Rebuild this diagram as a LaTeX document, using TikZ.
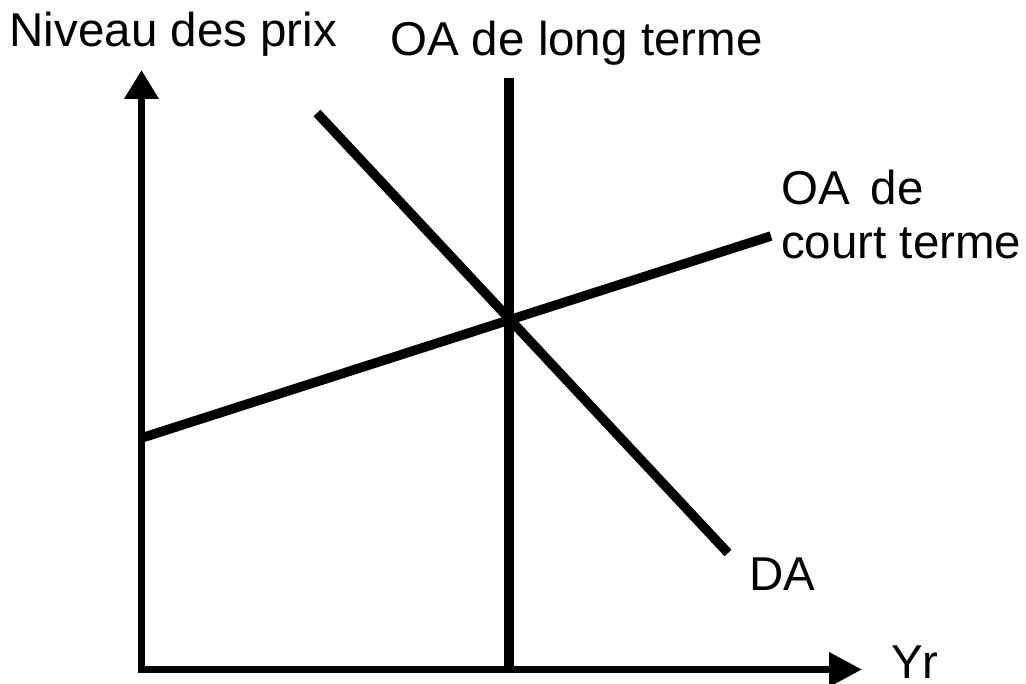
\documentclass[tikz,border=0pt]{standalone}
\usepackage{fontspec}
\setmainfont{Liberation Sans}
\usetikzlibrary{arrows.meta}

\tikzset{
  axis/.style={line width=7pt, line join=miter},
  curve/.style={line width=9.5pt},
  lbl/.style={anchor=base west, inner sep=0pt, align=left,
    font=\fontsize{47.5}{54}\selectfont}
}

\begin{document}
\begin{tikzpicture}[x=1pt,y=-1pt]
  \useasboundingbox (0,0) rectangle (1026,684);

  % axes
  \coordinate (O) at (141.5,669.5);
  \coordinate (ytip) at (141.5,70);
  \coordinate (xtip) at (862,669.5);
  \draw[axis, {Triangle[length=29pt,width=33pt]}-{Triangle[length=33pt,width=33pt]}]
    (ytip) -- (O) -- (xtip);

  % curves
  \coordinate (lrtop) at (509,78);
  \coordinate (lrbot) at (509,669.5);
  \coordinate (datop) at (317,113);
  \coordinate (dabot) at (728,553);
  \coordinate (srleft) at (141.5,438);
  \coordinate (srright) at (771,236);
  \draw[curve] (lrtop) -- (lrbot);
  \draw[curve] (datop) -- (dabot);
  \draw[curve] (srleft) -- (srright);

  % labels
  \node[lbl] (lblprix) at (9.5,47) {Niveau des prix};
  \node[lbl] (lbllong) at (390,56) {OA de long terme};
  \node[lbl] (lblcourt) at (781,259) {OA\hspace{21pt}de\\court terme};
  \node[lbl] (lblda) at (749,590) {DA};
  \node[lbl] (lblyr) at (891,678) {Yr};
\end{tikzpicture}
\end{document}
